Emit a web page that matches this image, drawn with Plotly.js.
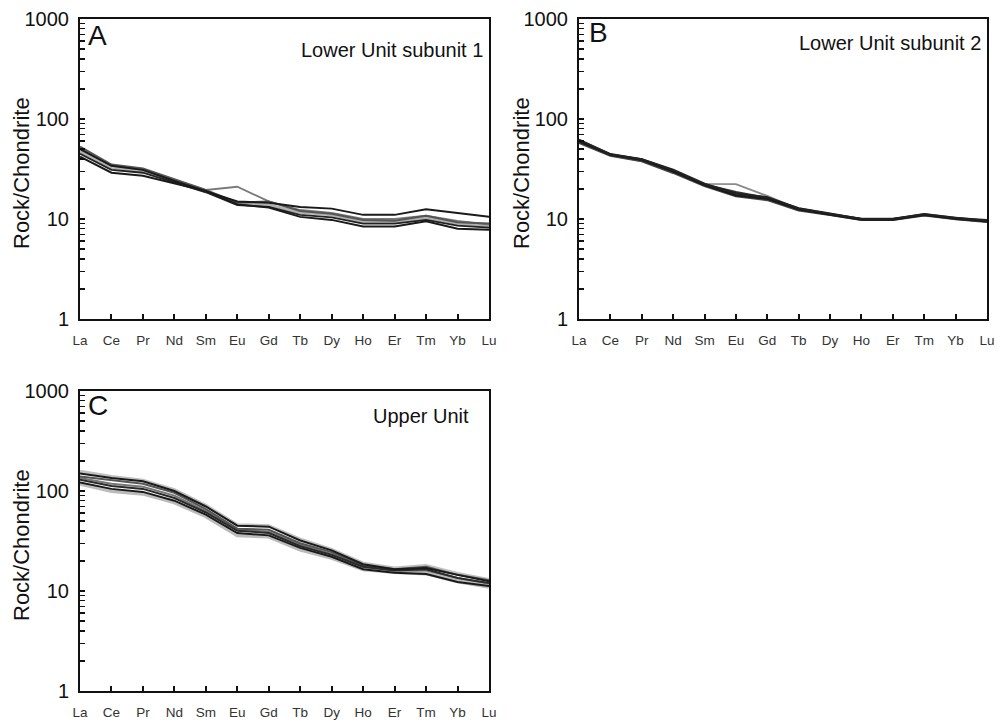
<!DOCTYPE html>
<html>
<head>
<meta charset="utf-8">
<script src="https://cdn.plot.ly/plotly-3.0.1.min.js"></script>
<style>html,body{margin:0;padding:0;background:#fff;}#chart{width:998px;height:724px;}</style>
</head>
<body>
<div id="chart"></div>
<script>
// REE categories
const elements = ["La","Ce","Pr","Nd","Sm","Eu","Gd","Tb","Dy","Ho","Er","Tm","Yb","Lu"];

// Panel A: Lower Unit subunit 1
const a1 = [50, 34, 31, 24, 19, 15, 14.5, 13.2, 12.7, 11, 11, 12.5, 11.5, 10.5];
const a2 = [42, 29, 27, 22.5, 19, 14, 13, 10.5, 9.8, 8.4, 8.4, 9.5, 8, 7.8];
const a3 = [53, 35, 32, 25, 19.5, 14.5, 15, 12, 11.3, 9.8, 9.6, 10.8, 9.3, 9];
const a4 = [51, 34, 31, 24.5, 19.5, 21, 15, 12.3, 11.5, 10, 10, 10.8, 9.6, 8.8];
const a5 = [47, 32, 30, 23.5, 19, 14.2, 13.8, 11.7, 11, 9.4, 9.3, 10.2, 9, 8.5];
const a6 = [45, 31, 29, 23, 18.5, 13.8, 13.2, 11, 10.4, 9, 9, 9.8, 8.6, 8.2];

// Panel B: Lower Unit subunit 2
const b1 = [62, 44.5, 39.5, 31, 22.5, 18, 16.5, 12.8, 11.3, 10, 10, 11.2, 10.3, 9.6];
const b2 = [60, 44, 39, 30, 22, 17.3, 16, 12.5, 11.1, 9.9, 9.9, 11, 10.1, 9.5];
const b3 = [58, 43, 38, 29, 21.5, 17, 15.5, 12.2, 11, 9.8, 9.8, 10.9, 10, 9.4];
const b4 = [60, 43.5, 38, 29.5, 22.5, 22.3, 17, 12.5, 11.2, 10, 10, 11, 10, 9.4];
const b5 = [61, 44, 39.5, 30.5, 22, 18.5, 16.2, 12.7, 11.2, 10, 10, 11.1, 10.2, 9.7];

// Panel C: Upper Unit
const c1 = [150, 135, 125, 100, 70, 45, 44, 32, 25.5, 18.5, 16.5, 17, 14.5, 12.5];
const c2 = [140, 128, 118, 96, 66, 42, 41, 30, 24.5, 18, 16.5, 17.5, 14.5, 12.8];
const c3 = [130, 112, 105, 85, 61, 40, 38, 28, 23, 17.5, 16, 16.5, 13.5, 12];
const c4 = [122, 105, 98, 80, 58, 38, 36, 27, 22, 16.5, 15.2, 14.8, 12.3, 11.2];
const c5 = [118, 100, 94, 77, 56, 36, 35, 26, 21.5, 16.5, 15.5, 15, 12.5, 11];
const c6 = [158, 140, 128, 103, 72, 46, 45, 33, 26, 19, 17, 18, 15, 13];
const c7 = [135, 118, 110, 90, 63, 41, 39, 29, 23.5, 17.5, 16, 16, 13.5, 11.8];

const yTickLabels = ["1", "10", "100", "1000"];

const idx = elements.map((_, i) => i);

function tr(vals, color, width, xa, ya) {
  return {x: idx, y: vals, type: "scatter", mode: "lines",
    line: {color: color, width: width}, xaxis: xa, yaxis: ya,
    hoverinfo: "skip", showlegend: false};
}

const data = [
  tr(a5, "#b0b0b0", 3, "x", "y"),
  tr(a4, "#7a7a7a", 1.8, "x", "y"),
  tr(a3, "#555555", 2, "x", "y"),
  tr(a6, "#222222", 1.8, "x", "y"),
  tr(a1, "#1a1a1a", 2, "x", "y"),
  tr(a2, "#1a1a1a", 2, "x", "y"),

  tr(b4, "#8a8a8a", 1.8, "x2", "y2"),
  tr(b3, "#444444", 2.4, "x2", "y2"),
  tr(b5, "#333333", 2.4, "x2", "y2"),
  tr(b2, "#1a1a1a", 2.4, "x2", "y2"),
  tr(b1, "#222222", 2.2, "x2", "y2"),

  tr(c5, "#bbbbbb", 4, "x3", "y3"),
  tr(c6, "#c0c0c0", 3, "x3", "y3"),
  tr(c7, "#777777", 2, "x3", "y3"),
  tr(c2, "#555555", 2, "x3", "y3"),
  tr(c4, "#1a1a1a", 2, "x3", "y3"),
  tr(c3, "#2a2a2a", 2, "x3", "y3"),
  tr(c1, "#1a1a1a", 2, "x3", "y3")
];

// log ticks: decades labelled, minors blank
const logVals = [], logText = [];
for (let d = 0; d < 3; d++) {
  for (let k = 1; k <= 9; k++) {
    logVals.push(k * Math.pow(10, d));
    logText.push(k === 1 ? yTickLabels[d] : "");
  }
}
logVals.push(1000); logText.push(yTickLabels[3]);

const font = "Liberation Sans, Arial, sans-serif";

function xax(domain, anchor) {
  return {domain: domain, anchor: anchor, range: [0, 13], tickmode: "array",
    tickvals: idx, ticktext: elements, ticks: "inside", ticklen: 5, tickwidth: 2,
    tickcolor: "#111", showline: true, linecolor: "#111", linewidth: 2, mirror: true,
    showgrid: false, zeroline: false, fixedrange: true,
    tickfont: {family: font, size: 13.5, color: "#333"}, ticklabelstandoff: 8};
}
function yax(domain, anchor) {
  return {domain: domain, anchor: anchor, type: "log", range: [0, 3],
    tickmode: "array", tickvals: logVals, ticktext: logText,
    ticks: "inside", ticklen: 5, tickwidth: 1.5, tickcolor: "#111",
    showline: true, linecolor: "#111", linewidth: 2, mirror: true,
    showgrid: false, zeroline: false, fixedrange: true,
    tickfont: {family: font, size: 20, color: "#111"}, ticklabelstandoff: 5};
}

const W = 998, H = 724;
const xA = [80 / W, 489 / W], xB = [579 / W, 987 / W];
const yTop = [1 - 319 / H, 1 - 19 / H], yBot = [1 - 691 / H, 1 - 391 / H];

function ann(text, x, y, size, xanchor, angle) {
  return {text: text, x: x / W, y: 1 - y / H, xref: "paper", yref: "paper",
    showarrow: false, xanchor: xanchor, yanchor: "middle",
    font: {family: font, size: size, color: "#111"}, textangle: angle || 0};
}

const layout = {
  width: W, height: H,
  margin: {l: 0, r: 0, t: 0, b: 0},
  paper_bgcolor: "#fff", plot_bgcolor: "#fff",
  showlegend: false,
  xaxis: xax(xA, "y"), yaxis: yax(yTop, "x"),
  xaxis2: xax(xB, "y2"), yaxis2: yax(yTop, "x2"),
  xaxis3: xax(xA, "y3"), yaxis3: yax(yBot, "x3"),
  annotations: [
    ann("A", 86, 35, 28, "left"),
    ann("B", 587, 33, 28, "left"),
    ann("C", 86, 405, 28, "left"),
    ann("Lower Unit subunit 1", 485, 50, 20, "right"),
    ann("Lower Unit subunit 2", 983, 43, 20, "right"),
    ann("Upper Unit", 471, 416, 20, "right"),
    ann("Rock/Chondrite", 21, 173, 22, "center", -90),
    ann("Rock/Chondrite", 521, 173, 22, "center", -90),
    ann("Rock/Chondrite", 21, 545, 22, "center", -90)
  ]
};

Plotly.newPlot("chart", data, layout, {displayModeBar: false, staticPlot: true});
</script>
</body>
</html>
